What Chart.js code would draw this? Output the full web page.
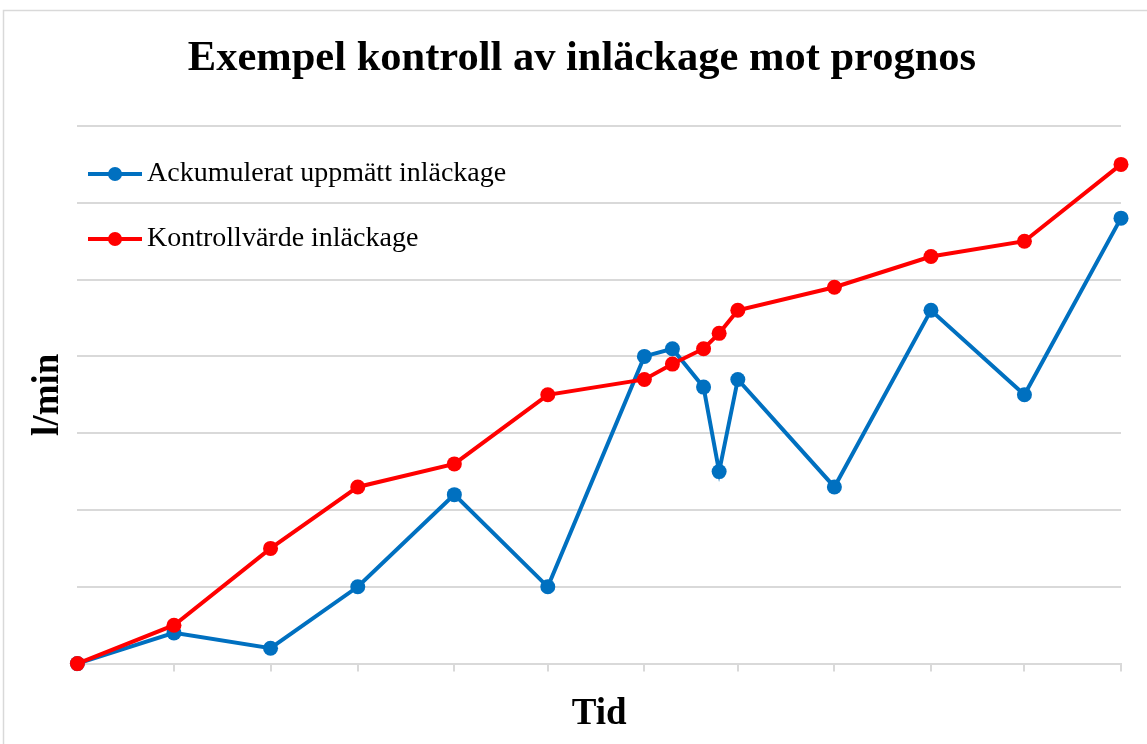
<!DOCTYPE html>
<html>
<head>
<meta charset="utf-8">
<script src="https://cdn.jsdelivr.net/npm/chart.js@4/dist/chart.umd.min.js"></script>
<style>
  html, body { margin: 0; padding: 0; background: #fff; }
  #wrap { width: 1147px; height: 744px; }
</style>
</head>
<body>
<div id="wrap"><canvas id="grafik" width="1147" height="744"></canvas></div>
<script>
// dagar från start (månadsgränser som tickmarkeringar)
const dagar = [0, 31, 62, 90, 121, 151, 182, 191, 201, 206, 212, 243, 274, 304, 335]
const manadsgranser = [0, 31, 62, 90, 121, 151, 182, 212, 243, 274, 304, 335]

const uppmatt = [0, 4, 2, 10, 22, 10, 40, 41, 36, 25, 37, 23, 46, 35, 58]
const kontroll = [0, 5, 15, 23, 26, 35, 37, 39, 41, 43, 46, 49, 53, 55, 65]

const serier = [
   { namn: "Ackumulerat uppmätt inläckage", farg: "#0070C0", varden: uppmatt },
   { namn: "Kontrollvärde inläckage", farg: "#FF0000", varden: kontroll }
]

const titel = "Exempel kontroll av inläckage mot prognos"
const serif = "'Liberation Serif', 'Times New Roman', serif"

const tillPunkter = (varden) => varden.map((v, i) => ({ x: dagar[i], y: v }))

const ramOchText = {
   id: 'ramOchText',
   beforeDraw: (chart) => {
      const ctx = chart.ctx
      ctx.save()
      ctx.fillStyle = '#fff'
      ctx.fillRect(0, 0, chart.width, chart.height)
      ctx.strokeStyle = '#d9d9d9'
      ctx.lineWidth = 1.5
      ctx.strokeRect(3.5, 10.5, 1200, 800)
      ctx.restore()
   },
   afterDraw: (chart) => {
      const ctx = chart.ctx
      ctx.save()
      ctx.fillStyle = '#000'
      ctx.textAlign = 'center'
      ctx.textBaseline = 'middle'
      ctx.font = "bold 42.5px " + serif
      ctx.fillText(titel, 582, 59)

      // förklaring
      ctx.textAlign = 'left'
      ctx.font = "28px " + serif
      serier.forEach((s, i) => {
         const y = 174 + i * 65
         ctx.strokeStyle = s.farg
         ctx.lineWidth = 4
         ctx.beginPath()
         ctx.moveTo(88, y)
         ctx.lineTo(142, y)
         ctx.stroke()
         ctx.fillStyle = s.farg
         ctx.beginPath()
         ctx.arc(115, y, 7, 0, Math.PI * 2)
         ctx.fill()
         ctx.fillStyle = '#000'
         ctx.fillText(s.namn, 147, y)
      })
      ctx.restore()
   }
}

const data = {
   datasets: serier.map((s, i) => ({
      label: s.namn,
      data: tillPunkter(s.varden),
      borderColor: s.farg,
      backgroundColor: s.farg,
      borderWidth: 4,
      pointRadius: 7.5,
      pointBorderWidth: 0,
      pointHoverRadius: 7.5,
      tension: 0,
      clip: false,
      order: i === 0 ? 2 : 1
   }))
}

const options = {
   responsive: false,
   animation: false,
   layout: { padding: { top: 126, right: 26, bottom: 3, left: 0 } },
   plugins: {
      legend: { display: false },
      tooltip: { enabled: false },
      title: { display: false }
   },
   scales: {
      x: {
         type: 'linear',
         min: 0,
         max: 335,
         afterBuildTicks: (scale) => {
            scale.ticks = manadsgranser.map(v => ({ value: v }))
         },
         ticks: { display: false },
         grid: {
            drawOnChartArea: false,
            drawTicks: true,
            tickLength: 8,
            color: '#d9d9d9',
            lineWidth: 2
         },
         border: { display: true, color: '#d9d9d9', width: 2 },
         title: {
            display: true,
            text: 'Tid',
            color: '#000',
            font: { family: serif, size: 37, weight: 'bold' },
            padding: { top: 21, bottom: 4 }
         }
      },
      y: {
         min: 0,
         max: 70,
         ticks: { display: false, stepSize: 10 },
         grid: { color: '#d9d9d9', lineWidth: 2, drawTicks: false },
         border: { display: false },
         title: {
            display: true,
            text: 'l/min',
            color: '#000',
            font: { family: serif, size: 37, weight: 'bold' },
            padding: { top: 26, bottom: 7 }
         }
      }
   }
}

new Chart(document.getElementById('grafik').getContext('2d'), {
   type: 'line',
   data: data,
   options: options,
   plugins: [ramOchText]
})
</script>
</body>
</html>
